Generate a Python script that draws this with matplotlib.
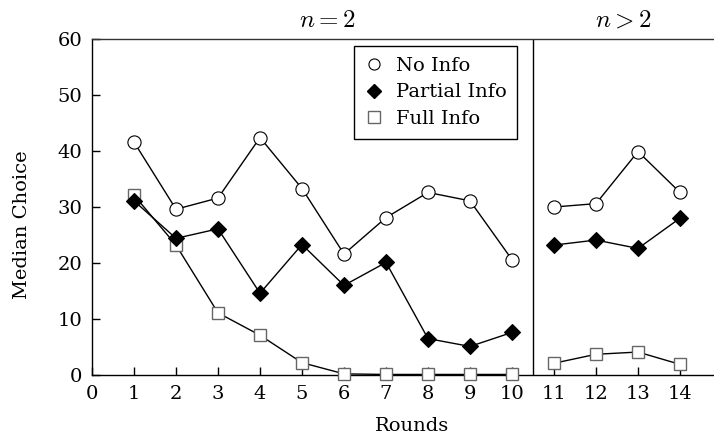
import matplotlib
matplotlib.use("Agg")
import matplotlib.pyplot as plt
from matplotlib.lines import Line2D
from matplotlib.transforms import blended_transform_factory

plt.rcParams["font.family"] = ["DejaVu Serif"]
plt.rcParams["mathtext.fontset"] = "cm"

# Rounds 1-10: pairs (n = 2); rounds 11-14: larger groups (n > 2)
rounds_pair = [1, 2, 3, 4, 5, 6, 7, 8, 9, 10]
rounds_group = [11, 12, 13, 14]

no_info_pair = [41.6, 29.6, 31.6, 42.4, 33.3, 21.6, 28.1, 32.6, 31.1, 20.6]
partial_info_pair = [31.1, 24.4, 26.1, 14.6, 23.3, 16.0, 20.1, 6.5, 5.1, 7.6]
full_info_pair = [32.1, 23.2, 11.1, 7.1, 2.2, 0.2, 0.1, 0.1, 0.1, 0.1]

no_info_group = [30.0, 30.6, 39.9, 32.6]
partial_info_group = [23.2, 24.1, 22.6, 28.0]
full_info_group = [2.1, 3.7, 4.1, 1.9]

x_ticks = list(range(0, 15))
y_ticks = [0, 10, 20, 30, 40, 50, 60]
legend_labels = ["No Info", "Partial Info", "Full Info"]

W, H = 714, 438
fig = plt.figure(figsize=(W / 100, H / 100), dpi=100)
ax = fig.add_axes([92 / W, (H - 375) / H, (W - 92) / W, 336 / H])

circle_style = dict(marker="o", markersize=9.5, markerfacecolor="white",
                    markeredgecolor="black", markeredgewidth=0.8,
                    color="black", linewidth=1.0)
diamond_style = dict(marker="D", markersize=8, markerfacecolor="black",
                     markeredgecolor="black", markeredgewidth=0.8,
                     color="black", linewidth=1.0)
square_style = dict(marker="s", markersize=9, markerfacecolor="white",
                    markeredgecolor="#666666", markeredgewidth=1.0,
                    color="black", linewidth=1.0)

for xs, ys in [(rounds_pair, full_info_pair), (rounds_group, full_info_group)]:
    ax.plot(xs, ys, clip_on=False, zorder=3, **square_style)
for xs, ys in [(rounds_pair, partial_info_pair), (rounds_group, partial_info_group)]:
    ax.plot(xs, ys, clip_on=False, zorder=4, **diamond_style)
for xs, ys in [(rounds_pair, no_info_pair), (rounds_group, no_info_group)]:
    ax.plot(xs, ys, clip_on=False, zorder=5, **circle_style)

ax.axvline(10.5, color="black", linewidth=1.0, zorder=2)

ax.set_xlim(0, (W - 92) / 42)
ax.set_ylim(0, 60)
ax.set_xticks(x_ticks)
ax.set_yticks(y_ticks)
ax.tick_params(direction="in", length=6, width=1.0, labelsize=14, pad=7)
for side in ["left", "bottom", "top"]:
    ax.spines[side].set_linewidth(1.0)
ax.spines["top"].set_color("#333333")
ax.spines["right"].set_visible(False)

trans = blended_transform_factory(ax.transData, ax.transAxes)
ax.text(5.6, 1.036, r"$n = 2$", transform=trans, ha="center", va="baseline", fontsize=18)
ax.text(12.65, 1.036, r"$n > 2$", transform=trans, ha="center", va="baseline", fontsize=18)

fig.text(412 / W, 1 - 426 / H, "Rounds", ha="center", va="center", fontsize=14)
fig.text(22 / W, 1 - 225 / H, "Median Choice", ha="center", va="center",
         rotation=90, fontsize=14)

handles = [
    Line2D([], [], linestyle="none", marker="o", markersize=8,
           markerfacecolor="white", markeredgecolor="black", markeredgewidth=0.8),
    Line2D([], [], linestyle="none", marker="D", markersize=7,
           markerfacecolor="black", markeredgecolor="black"),
    Line2D([], [], linestyle="none", marker="s", markersize=8,
           markerfacecolor="white", markeredgecolor="#666666", markeredgewidth=1.0),
]
leg = ax.legend(handles, legend_labels, loc="upper right",
                bbox_to_anchor=(10.12, 58.75), bbox_transform=ax.transData,
                borderaxespad=0, fancybox=False, framealpha=1, edgecolor="black",
                fontsize=14, handlelength=1.0, handletextpad=0.6,
                labelspacing=0.45, borderpad=0.55)
leg.get_frame().set_linewidth(1.0)
leg.set_zorder(10)

fig.savefig("out.png", dpi=100)
